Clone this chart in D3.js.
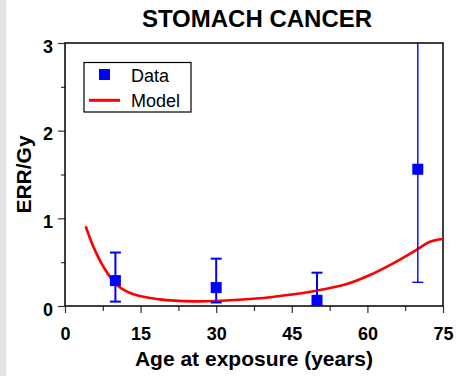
<!DOCTYPE html>
<html>
<head>
<meta charset="utf-8">
<script src="https://cdn.jsdelivr.net/npm/d3@7"></script>
<style>
  html, body { margin: 0; padding: 0; background: #fff; }
  svg { display: block; font-family: "Liberation Sans", Arial, sans-serif; }
</style>
</head>
<body>
<svg id="chart" width="456" height="376"></svg>
<script>
// ---- data ----
const title = "STOMACH CANCER";
const xLabel = "Age at exposure (years)";
const yLabel = "ERR/Gy";
const xTicks = [0, 15, 30, 45, 60, 75];
const xMinorTicks = [7.5, 22.5, 37.5, 52.5, 67.5];
const yTicks = [0, 1, 2, 3];
const yMinorTicks = [0.5, 1.5, 2.5];

const dataAge = [10, 30, 50, 70];
const dataErr = [0.29, 0.21, 0.065, 1.56];
const dataLower = [0.05, 0.04, 0.0, 0.27];
const dataUpper = [0.61, 0.54, 0.38, 3.6];

const modelAge = [4.1, 5.6, 7.6, 10.3, 13.6, 18.8, 25.5, 30.1, 38.7, 42.7, 49.9, 55.9, 60.5, 65.1, 69.9, 72.4, 75];
const modelErr = [0.91, 0.68, 0.45, 0.24, 0.133, 0.076, 0.053, 0.057, 0.088, 0.115, 0.175, 0.25, 0.353, 0.487, 0.646, 0.733, 0.765];

const legendLabels = ["Data", "Model"];

// ---- layout ----
const svg = d3.select("#chart");
const L = 65, R = 443, T = 43, B = 306;
const x = d3.scaleLinear().domain([0, 75]).range([L, R]);
const y = d3.scaleLinear().domain([0, 3]).range([B, T]);
const blue = "#0000ff", red = "#ff0000";

// left grey strip
svg.append("rect").attr("x", 0).attr("y", 0).attr("width", 6).attr("height", 376).attr("fill", "#e4e4e4");

svg.append("defs").append("clipPath").attr("id", "plotclip")
  .append("rect").attr("x", L).attr("y", T).attr("width", R - L).attr("height", B - T);

// title
svg.append("text").attr("x", 257).attr("y", 27).attr("text-anchor", "middle")
  .attr("font-size", 24).attr("font-weight", "bold").attr("fill", "#000").text(title);

// axes
const gx = svg.append("g").attr("transform", `translate(0,${B})`)
  .call(d3.axisBottom(x).tickValues(xTicks).tickFormat(d3.format("d")).tickSize(7).tickSizeOuter(0).tickPadding(14));
const gxm = svg.append("g").attr("transform", `translate(0,${B})`)
  .call(d3.axisBottom(x).tickValues(xMinorTicks).tickFormat("").tickSize(5).tickSizeOuter(0));
const gy = svg.append("g").attr("transform", `translate(${L},0)`)
  .call(d3.axisLeft(y).tickValues(yTicks).tickFormat(d3.format("d")).tickSize(7).tickSizeOuter(0).tickPadding(5));
const gym = svg.append("g").attr("transform", `translate(${L},0)`)
  .call(d3.axisLeft(y).tickValues(yMinorTicks).tickFormat("").tickSize(4).tickSizeOuter(0));
[gx, gxm, gy, gym].forEach(g => {
  g.select(".domain").remove();
  g.selectAll(".tick line").attr("stroke", "#333").attr("stroke-width", 1.2);
  g.selectAll(".tick text").attr("font-family", "Liberation Sans, Arial, sans-serif")
    .attr("font-size", 18).attr("font-weight", "bold").attr("fill", "#000");
});
gy.selectAll(".tick text").attr("dy", "0.5em");

// frame
svg.append("rect").attr("x", L).attr("y", T).attr("width", R - L).attr("height", B - T)
  .attr("fill", "none").attr("stroke", "#000").attr("stroke-width", 1.5);

// axis titles
svg.append("text").attr("x", (L + R) / 2).attr("y", 366).attr("text-anchor", "middle")
  .attr("font-size", 21).attr("font-weight", "bold").attr("fill", "#000").text(xLabel);
svg.append("text").attr("transform", `translate(31,${(T + B) / 2}) rotate(-90)`).attr("text-anchor", "middle")
  .attr("font-size", 21).attr("font-weight", "bold").attr("fill", "#000").text(yLabel);

const plot = svg.append("g").attr("clip-path", "url(#plotclip)");

// model curve
const line = d3.line().x((d, i) => x(modelAge[i])).y((d, i) => y(modelErr[i])).curve(d3.curveCatmullRom.alpha(0.5));
plot.append("path").datum(modelErr).attr("d", line).attr("fill", "none")
  .attr("stroke", red).attr("stroke-width", 2.6);

// error bars
const pts = dataAge.map((a, i) => ({ a, v: dataErr[i], lo: dataLower[i], hi: dataUpper[i] }));
const eb = plot.selectAll("g.eb").data(pts).enter().append("g").attr("class", "eb")
  .attr("stroke", blue).attr("stroke-width", d => d.hi > y.domain()[1] ? 1.4 : 2);
eb.append("line").attr("x1", d => x(d.a)).attr("x2", d => x(d.a)).attr("y1", d => y(d.lo)).attr("y2", d => y(d.hi));
eb.append("line").attr("x1", d => x(d.a) - 5.5).attr("x2", d => x(d.a) + 5.5).attr("y1", d => y(d.lo)).attr("y2", d => y(d.lo));
eb.append("line").attr("x1", d => x(d.a) - 5.5).attr("x2", d => x(d.a) + 5.5).attr("y1", d => y(d.hi)).attr("y2", d => y(d.hi));

// markers
plot.selectAll("rect.pt").data(pts).enter().append("rect").attr("class", "pt")
  .attr("x", d => x(d.a) - 5.5).attr("y", d => y(d.v) - 5.5).attr("width", 11).attr("height", 11).attr("fill", blue);

// legend
const lg = svg.append("g");
lg.append("rect").attr("x", 84).attr("y", 62.5).attr("width", 107).attr("height", 49.5)
  .attr("fill", "#fff").attr("stroke", "#000").attr("stroke-width", 1.2);
lg.append("rect").attr("x", 99).attr("y", 69).attr("width", 11).attr("height", 11).attr("fill", blue);
lg.append("line").attr("x1", 89).attr("x2", 120).attr("y1", 100.3).attr("y2", 100.3).attr("stroke", red).attr("stroke-width", 3);
lg.selectAll("text.lt").data(legendLabels).enter().append("text").attr("class", "lt")
  .attr("x", 131).attr("y", (d, i) => 82 + i * 24.5).attr("font-size", 18).attr("fill", "#000").text(d => d);
</script>
</body>
</html>
